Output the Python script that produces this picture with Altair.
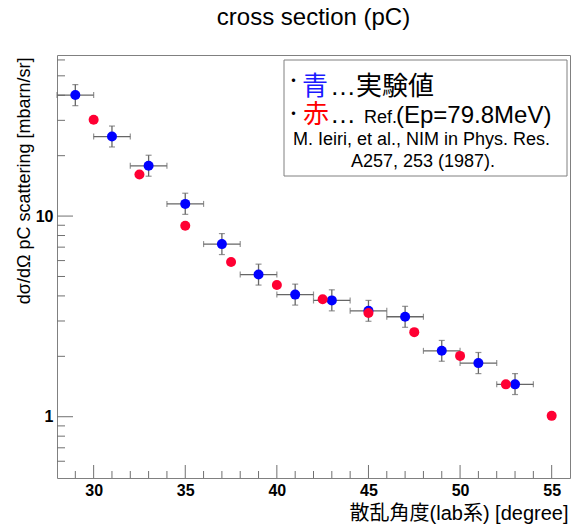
import altair as alt
import pandas as pd

# ---- data ----
blue_x = [29, 31, 33, 35, 37, 39, 41, 43, 45, 47, 49, 51, 53]
blue_y = [40.1, 24.9, 17.8, 11.5, 7.25, 5.11, 4.06, 3.80, 3.37, 3.15, 2.13, 1.85, 1.45]
blue_xlo = [28, 30, 32, 34, 36, 38, 40, 42, 44, 46, 48, 50, 52]
blue_xhi = [30, 32, 34, 36, 38, 40, 42, 44, 46, 48, 50, 52, 54]
blue_ylo = [35.5, 22.1, 15.8, 10.2, 6.43, 4.53, 3.60, 3.37, 2.99, 2.79, 1.89, 1.64, 1.29]
blue_yhi = [45.2, 28.1, 20.1, 13.0, 8.18, 5.76, 4.58, 4.29, 3.80, 3.55, 2.40, 2.09, 1.64]

red_x = [30, 32.5, 35, 37.5, 40, 42.5, 45, 47.5, 50, 52.5, 55]
red_y = [30.2, 16.1, 8.95, 5.90, 4.53, 3.85, 3.29, 2.64, 2.01, 1.45, 1.01]

x_major = [30, 35, 40, 45, 50, 55]
x_minor = [29, 31, 32, 33, 34, 36, 37, 38, 39, 41, 42, 43, 44, 46, 47, 48, 49,
           51, 52, 53, 54]
y_major = [1, 10]
y_minor = [0.6, 0.7, 0.8, 0.9, 2, 3, 4, 5, 6, 7, 8, 9, 20, 30, 40, 50, 60]

blue = pd.DataFrame({"x": blue_x, "y": blue_y, "xlo": blue_xlo, "xhi": blue_xhi,
                     "ylo": blue_ylo, "yhi": blue_yhi})
red = pd.DataFrame({"x": red_x, "y": red_y})

# ---- styling ----
W, H = 513, 423
FONT = "Liberation Sans, Arial, Helvetica, sans-serif"
JFONT = "Liberation Sans, Noto Sans CJK JP, sans-serif"
CJK = "Noto Sans CJK JP, sans-serif"
FRAME = "#808080"
TICK = "#707070"
ERR = "#666666"
BLUE = "#0000ff"
RED = "#ff0033"

xscale = alt.Scale(domain=[28, 56], nice=False, zero=False)
yscale = alt.Scale(type="log", domain=[0.495, 63.5], nice=False)

xaxis = alt.Axis(values=x_major, format="d", ticks=False, domain=False, grid=False,
                 labelFont=FONT, labelFontSize=16, labelFontWeight="bold",
                 labelColor="black", labelPadding=4,
                 title="散乱角度(lab系) [degree]", titleFont=JFONT, titleFontSize=20,
                 titleFontWeight="normal", titleColor="black",
                 titleAlign="right", titleBaseline="alphabetic",
                 titleX=W - 2, titleY=41)
yaxis = alt.Axis(values=y_major, format="d", ticks=False, domain=False, grid=False,
                 labelFont=FONT, labelFontSize=16, labelFontWeight="bold",
                 labelColor="black", labelPadding=4,
                 title="dσ/dΩ pC scattering [mbarn/sr]", titleFont=FONT,
                 titleFontSize=18, titleFontWeight="normal", titleColor="black",
                 titleAlign="right", titleBaseline="alphabetic", titleAngle=270,
                 titleX=-28, titleY=2)

X = lambda f: alt.X(f, type="quantitative", scale=xscale, axis=xaxis)
Y = lambda f: alt.Y(f, type="quantitative", scale=yscale, axis=yaxis)

# ticks drawn inward
xt_major = alt.Chart(pd.DataFrame({"v": x_major})).mark_rule(color=TICK, strokeWidth=1).encode(
    x=X("v"), y=alt.value(H), y2=alt.value(H - 13))
xt_minor = alt.Chart(pd.DataFrame({"v": x_minor})).mark_rule(color=TICK, strokeWidth=1).encode(
    x=X("v"), y=alt.value(H), y2=alt.value(H - 7))
yt_major = alt.Chart(pd.DataFrame({"v": y_major})).mark_rule(color=TICK, strokeWidth=1).encode(
    y=Y("v"), x=alt.value(0), x2=alt.value(16))
yt_minor = alt.Chart(pd.DataFrame({"v": y_minor})).mark_rule(color=TICK, strokeWidth=1).encode(
    y=Y("v"), x=alt.value(0), x2=alt.value(8))

bc = alt.Chart(blue)
hbar = bc.mark_rule(color=ERR, strokeWidth=1.3).encode(x=X("xlo"), x2="xhi:Q", y=Y("y"))
vbar = bc.mark_rule(color=ERR, strokeWidth=1.3).encode(x=X("x"), y=Y("ylo"), y2="yhi:Q")
cap1 = bc.mark_tick(orient="vertical", size=6, thickness=1.2, color=ERR).encode(x=X("xlo"), y=Y("y"))
cap2 = bc.mark_tick(orient="vertical", size=6, thickness=1.2, color=ERR).encode(x=X("xhi"), y=Y("y"))
cap3 = bc.mark_tick(orient="horizontal", size=6, thickness=1.2, color=ERR).encode(x=X("x"), y=Y("ylo"))
cap4 = bc.mark_tick(orient="horizontal", size=6, thickness=1.2, color=ERR).encode(x=X("x"), y=Y("yhi"))
bpts = bc.mark_circle(size=100, opacity=1, color=BLUE).encode(x=X("x"), y=Y("y"))
rpts = alt.Chart(red).mark_circle(size=100, opacity=1, color=RED).encode(x=X("x"), y=Y("y"))

# legend box
one = pd.DataFrame({"a": [0]})
box = alt.Chart(one).mark_rect(fill="white", stroke=FRAME, strokeWidth=1).encode(
    x=alt.value(227), x2=alt.value(510), y=alt.value(5), y2=alt.value(121))


def txt(text, x, y, size, color="black", font=JFONT, align="left"):
    return alt.Chart(one).mark_text(text=text, font=font, fontSize=size, color=color,
                                    align=align, baseline="alphabetic").encode(
        x=alt.value(x), y=alt.value(y))


title = txt("cross section (pC)", W / 2, -30, 24, font=FONT, align="center")

legend = [
    box,
    txt("・", 236.5, 31, 16, font=CJK, align="center"),
    txt("青", 245, 40, 26, color="#1a1aff"),
    txt("…実験値", 273, 40, 26),
    txt("・", 236.5, 64, 16, font=CJK, align="center"),
    txt("赤", 246, 68, 26, color="#ff0000"),
    txt("…", 273, 68, 26),
    txt("Ref.", 307, 68, 18, font=FONT),
    txt("(Ep=79.8MeV)", 339, 68, 24, font=FONT),
    txt("M. Ieiri, et al., NIM in Phys. Res.", 236, 90, 18, font=FONT),
    txt("A257, 253 (1987).", 366, 112, 18, font=FONT, align="center"),
]

chart = alt.layer(
    xt_major, xt_minor, yt_major, yt_minor,
    hbar, vbar, cap1, cap2, cap3, cap4, bpts, rpts,
    *legend, title,
).properties(
    width=W, height=H,
    padding={"left": 57, "top": 55, "right": 2, "bottom": 48},
    autosize=alt.AutoSizeParams(type="none"),
    background="white",
).configure_view(stroke=FRAME, strokeWidth=1)

chart.save("out.html", embed_options={"renderer": "svg", "actions": False})
